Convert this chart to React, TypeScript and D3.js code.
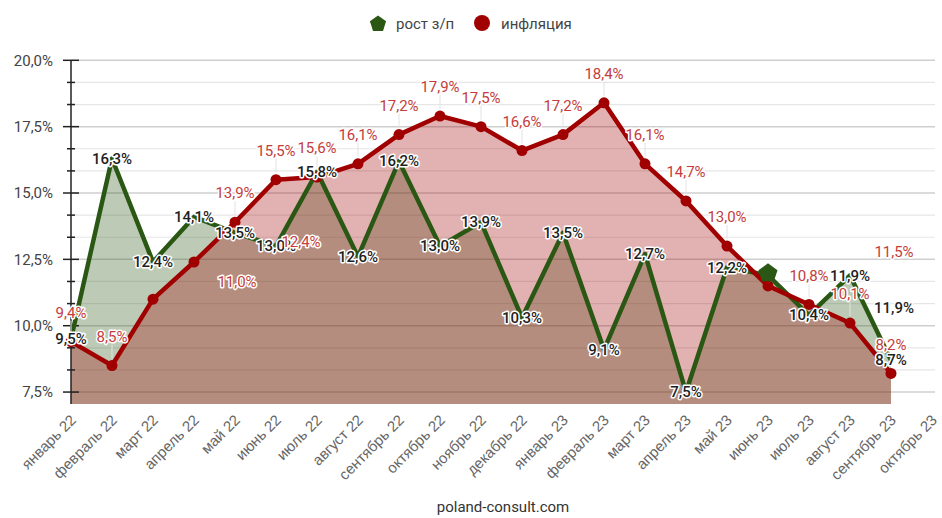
import React from "react";
import * as d3 from "d3";

// data
const months = ["январь 22", "февраль 22", "март 22", "апрель 22", "май 22", "июнь 22", "июль 22", "август 22", "сентябрь 22", "октябрь 22", "ноябрь 22", "декабрь 22", "январь 23", "февраль 23", "март 23", "апрель 23", "май 23", "июнь 23", "июль 23", "август 23", "сентябрь 23", "октябрь 23"];
const wageGrowth: (number | null)[] = [9.5, 16.3, 12.4, 14.1, 13.5, 13.0, 15.8, 12.6, 16.2, 13.0, 13.9, 10.3, 13.5, 9.1, 12.7, 7.5, 12.2, 11.9, 10.4, 11.9, 8.7, null];
const inflation: (number | null)[] = [9.4, 8.5, 11.0, 12.4, 13.9, 15.5, 15.6, 16.1, 17.2, 17.9, 17.5, 16.6, 17.2, 18.4, 16.1, 14.7, 13.0, 11.5, 10.8, 10.1, 8.2, null];
const yTicks = [7.5, 10, 12.5, 15, 17.5, 20];
const seriesNames = ["рост з/п", "инфляция"];

// labels that the original chart pushed aside to avoid collisions (index -> [dx, dy])
const redLabelMoves: Record<number, [number, number]> = { 2: [84, 12], 3: [107, 9], 17: [126, -5] };
const greenLabelMoves: Record<number, [number, number]> = { 17: [126, 32] };

const GREEN = "#2a5814";
const RED = "#a00000";
const RED_TEXT = "#c43c3c";
const FONT = "Roboto, 'Noto Sans', sans-serif";

const fmt = (v: number) => v.toFixed(1).replace(".", ",") + "%";

function pentagon(cx: number, cy: number, r: number) {
  const pts = d3.range(5).map((i) => {
    const a = -Math.PI / 2 + (i * 2 * Math.PI) / 5;
    return [cx + r * Math.cos(a), cy + r * Math.sin(a)] as [number, number];
  });
  return d3.line()(pts) + "Z";
}

export default function App() {
  const width = 942;
  const height = 518;
  const left = 71, right = 932, top = 60.3, bottom = 404;

  const x = d3.scalePoint<string>().domain(months).range([left, right]);
  const y = d3.scaleLinear().domain([7.05, 20]).range([bottom, top]);

  const gridVals = d3.range(0, 16).map((i) => 7.5 + (i * 2.5) / 3);

  const area = d3.area<number | null>()
    .defined((d) => d != null)
    .x((_, i) => x(months[i])!)
    .y0(bottom)
    .y1((d) => y(d as number));
  const line = d3.line<number | null>()
    .defined((d) => d != null)
    .x((_, i) => x(months[i])!)
    .y((d) => y(d as number));

  const halo = { stroke: "#fff", strokeWidth: 3, paintOrder: "stroke", strokeLinejoin: "round" } as React.CSSProperties;

  return (
    <svg width={width} height={height} style={{ position: "absolute", left: 0, top: 0, background: "#fff" }} fontFamily={FONT}>
      {/* grid */}
      {gridVals.map((v, i) => (
        <line key={i} x1={left} x2={935} y1={y(v)} y2={y(v)}
          stroke={i % 3 === 0 ? "#cfcfcf" : "#e6e6e6"} strokeWidth={i % 3 === 0 ? 1.5 : 1.2} />
      ))}

      {/* areas */}
      <path d={area(wageGrowth) || ""} fill={GREEN} fillOpacity={0.31} />
      <path d={area(inflation) || ""} fill={RED} fillOpacity={0.3} />

      {/* y axis */}
      <line x1={left} x2={left} y1={top} y2={bottom} stroke="#222" strokeWidth={1.5} />
      {gridVals.map((v, i) => (
        <line key={i} x1={i % 3 === 0 ? left - 8 : left - 4} x2={i % 3 === 0 ? left + 8 : left + 4}
          y1={y(v)} y2={y(v)} stroke="#222" strokeWidth={1.5} />
      ))}
      {yTicks.map((t) => (
        <text key={t} x={53} y={y(t)} dy="0.35em" textAnchor="end" fontSize={15} fill="#444">{fmt(t)}</text>
      ))}

      {/* x labels */}
      {months.map((m) => (
        <text key={m} transform={`translate(${x(m)! + 6},${421}) rotate(-45)`} textAnchor="end"
          fontSize={15} fill="#666" fontFamily="'Liberation Sans', Arial, sans-serif">{m}</text>
      ))}

      {/* lines */}
      <path d={line(wageGrowth) || ""} fill="none" stroke={GREEN} strokeWidth={4.5} strokeLinejoin="round" />
      <path d={line(inflation) || ""} fill="none" stroke={RED} strokeWidth={4.5} strokeLinejoin="round" />
      {inflation.map((v, i) => v == null ? null : (
        <circle key={i} cx={x(months[i])} cy={y(v)} r={5.5} fill={RED} />
      ))}
      {/* highlighted point */}
      <path d={pentagon(x(months[17])!, y(wageGrowth[17] as number) - 2, 10)} fill={GREEN} />

      {/* red leader lines */}
      {inflation.map((v, i) => v == null || redLabelMoves[i] ? null : (
        <line key={i} x1={x(months[i])} x2={x(months[i])} y1={y(v) - 21} y2={y(v) - 7} stroke="#e2e2e2" strokeWidth={1} />
      ))}

      {/* green labels */}
      {wageGrowth.map((v, i) => {
        if (v == null) return null;
        const mv = greenLabelMoves[i] || [0, 0];
        return (
          <text key={i} x={x(months[i])! + mv[0]} y={y(v) + mv[1]} dy="0.35em" textAnchor="middle"
            fontSize={15} fontWeight={500} fill="#1e1e1e" style={halo}>{fmt(v)}</text>
        );
      })}

      {/* red labels */}
      {inflation.map((v, i) => {
        if (v == null) return null;
        const mv = redLabelMoves[i] || [0, 0];
        return (
          <text key={i} x={x(months[i])! + mv[0]} y={y(v) - 29 + mv[1]} dy="0.35em" textAnchor="middle"
            fontSize={15} fill={RED_TEXT} style={halo}>{fmt(v)}</text>
        );
      })}

      {/* legend */}
      <path d={pentagon(378, 24, 8.5)} fill={GREEN} />
      <text x={396} y={24} dy="0.35em" fontSize={15} fill="#444">{seriesNames[0]}</text>
      <circle cx={482} cy={23} r={8} fill={RED} />
      <text x={501} y={24} dy="0.35em" fontSize={15} fill="#444">{seriesNames[1]}</text>

      {/* source */}
      <text x={503} y={512} textAnchor="middle" fontSize={15} fill="#333">poland-consult.com</text>
    </svg>
  );
}
